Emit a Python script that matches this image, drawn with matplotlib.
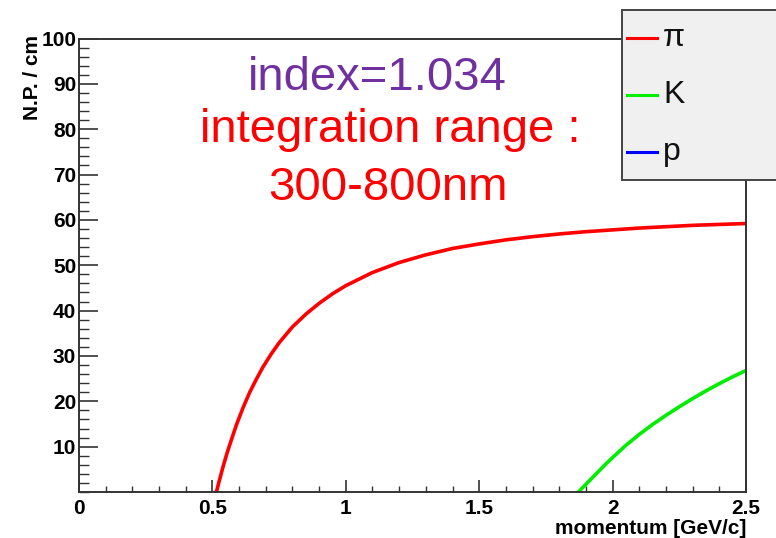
import matplotlib
matplotlib.use("Agg")
import matplotlib.pyplot as plt
from matplotlib.patches import Rectangle
from matplotlib.lines import Line2D
from matplotlib.ticker import MultipleLocator, FixedLocator

# ---- data ----
pion_p = [0.515, 0.525, 0.54, 0.555, 0.57, 0.59, 0.615, 0.64, 0.665, 0.69, 0.72,
          0.75, 0.80, 0.85, 0.90, 0.95, 1.0, 1.1, 1.2, 1.3, 1.4, 1.5, 1.6, 1.7,
          1.8, 1.9, 2.0, 2.1, 2.2, 2.3, 2.4, 2.5]
pion_n = [0.0, 2.3, 5.6, 8.6, 11.3, 14.8, 18.6, 22.0, 24.9, 27.6, 30.4,
          32.9, 36.4, 39.2, 41.6, 43.7, 45.5, 48.4, 50.6, 52.3, 53.7, 54.7, 55.6, 56.3,
          56.9, 57.4, 57.8, 58.2, 58.5, 58.8, 59.0, 59.2]
kaon_p = [1.872, 1.89, 1.91, 1.93, 1.95, 1.975, 2.0, 2.05, 2.1, 2.15, 2.2, 2.25,
          2.3, 2.35, 2.4, 2.45, 2.5]
kaon_n = [0.0, 1.1, 2.3, 3.5, 4.7, 6.2, 7.6, 10.3, 12.7, 14.9, 16.9, 18.8,
          20.6, 22.3, 23.9, 25.4, 26.8]
proton_p = []
proton_n = []

species = ["\u03c0", "K", "p"]
colors = ["#ff0000", "#00ee00", "#0000ff"]

x_ticks = [0, 0.5, 1, 1.5, 2, 2.5]
x_ticklabels = ["0", "0.5", "1", "1.5", "2", "2.5"]
y_ticks = [10, 20, 30, 40, 50, 60, 70, 80, 90, 100]
y_ticklabels = ["10", "20", "30", "40", "50", "60", "70", "80", "90", "100"]

plt.rcParams['font.family'] = ['Liberation Sans', 'DejaVu Sans']

W, H = 776, 538
fig = plt.figure(figsize=(W / 100, H / 100), dpi=100)
ax = fig.add_axes([79 / W, 1 - 492 / H, (746 - 79) / W, (492 - 38.5) / H])

for xs, ys, c in [(pion_p, pion_n, colors[0]), (kaon_p, kaon_n, colors[1]),
                  (proton_p, proton_n, colors[2])]:
    ax.plot(xs, ys, color=c, lw=2.6, solid_capstyle='butt', solid_joinstyle='round')

ax.set_xlim(0, 2.5)
ax.set_ylim(0, 100)

ax.xaxis.set_major_locator(FixedLocator(x_ticks))
ax.set_xticklabels(x_ticklabels)
ax.xaxis.set_minor_locator(MultipleLocator(0.1))
ax.yaxis.set_major_locator(FixedLocator(y_ticks))
ax.set_yticklabels(y_ticklabels)
ax.yaxis.set_minor_locator(MultipleLocator(2))

for lab in ax.get_xticklabels() + ax.get_yticklabels():
    lab.set_fontweight('bold')
    lab.set_fontsize(15)

ax.tick_params(axis='x', which='major', direction='in', length=8.6, width=1.2, pad=5, color='#333333')
ax.tick_params(axis='x', which='minor', direction='in', length=4.3, width=1.0, color='#333333')
ax.tick_params(axis='y', which='major', direction='in', length=14, width=1.2, pad=2, color='#333333')
ax.tick_params(axis='y', which='minor', direction='in', length=7, width=1.0, color='#333333')
for s in ax.spines.values():
    s.set_linewidth(1.4)
    s.set_color('#333333')

fig.text(746 / W, 1 - 528 / H, "momentum [GeV/c]", ha='right', va='center',
         fontsize=15, fontweight='bold')
fig.text(32 / W, 1 - 35 / H, "N.P. / cm", ha='center', va='top', rotation=90,
         fontsize=15, fontweight='bold')

# annotations
fig.text(377 / W, 1 - 78 / H, "index=1.034", ha='center', va='center',
         fontsize=34, color='#7030a0')
fig.text(390 / W, 1 - 130 / H, "integration range :", ha='center', va='center',
         fontsize=34, color='#ff0000')
fig.text(388 / W, 1 - 188 / H, "300-800nm", ha='center', va='center',
         fontsize=34, color='#ff0000')

# legend box (extends past the right edge)
box = Rectangle((622 / W, 1 - 180 / H), 200 / W, 170 / H, transform=fig.transFigure,
                facecolor='#f0f0f0', edgecolor='#444444', lw=1.4, zorder=5)
fig.patches.append(box)
leg_y = [38, 95, 152]
for name, col, yy in zip(species, colors, leg_y):
    fig.lines.append(Line2D([627 / W, 657 / W], [1 - yy / H, 1 - yy / H],
                            transform=fig.transFigure, color=col, lw=2.2, zorder=6))
    fig.text(663 / W, 1 - yy / H, name, ha='left', va='center', fontsize=23,
             color='#111111', zorder=7)

fig.savefig("out.png", dpi=100)
